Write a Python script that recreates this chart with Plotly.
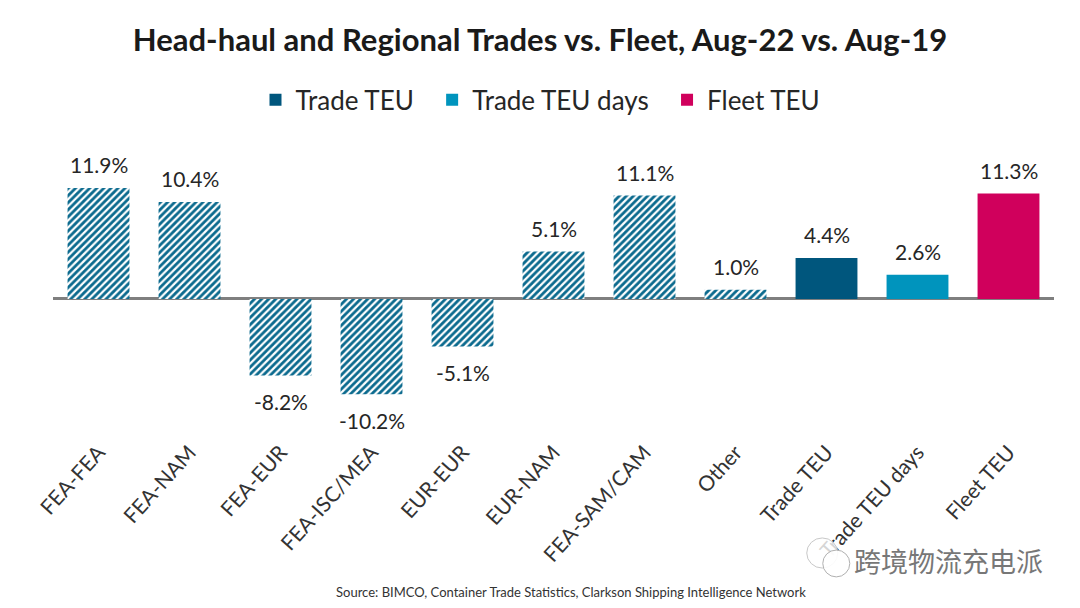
import plotly.graph_objects as go

# Values (% change)
trades = ['FEA-FEA', 'FEA-NAM', 'FEA-EUR', 'FEA-ISC/MEA', 'EUR-EUR', 'EUR-NAM', 'FEA-SAM/CAM', 'Other']
trade_values = [11.9, 10.4, -8.2, -10.2, -5.1, 5.1, 11.1, 1.0]
totals = ['Trade TEU', 'Trade TEU days', 'Fleet TEU']
total_values = [4.4, 2.6, 11.3]
total_colors = ['#00567d', '#0094bd', '#d0005c']
all_categories = trades + totals
all_values = trade_values + total_values

title_text = 'Head-haul and Regional Trades vs. Fleet, Aug-22 vs. Aug-19'
source_text = 'Source: BIMCO, Container Trade Statistics, Clarkson Shipping Intelligence Network'
watermark_text = '跨境物流充电派'

FONT = 'Lato, Carlito, sans-serif'
TEXT_COLOR = '#262626'

fig = go.Figure()

# Hatched regional bars, no legend entry
fig.add_trace(go.Bar(
    x=trades, y=trade_values, width=0.68, showlegend=False,
    marker=dict(color='white', line_width=0,
                pattern=dict(shape='/', fgcolor='#0b6a8e', bgcolor='white', size=5,
                             solidity=0.55, fgopacity=1)),
))

# Solid totals, one trace each so they show in the legend
for name, val, col in zip(totals, total_values, total_colors):
    fig.add_trace(go.Bar(
        x=[name], y=[val], name=name + '\u00a0\u00a0', width=0.68,  # nbsp widens legend gaps
        marker=dict(color=col, line_width=0),
    ))

# Value labels sit further off the bars than textposition outside allows
labels = [
    dict(x=cat, y=val, text=f'{val:.1f}%', showarrow=False, yanchor='middle',
         yshift=23 if val > 0 else -26, font=dict(size=21, color=TEXT_COLOR))
    for cat, val in zip(all_categories, all_values)
]

fig.update_layout(
    # the page body adds 8px around the figure
    width=1064, height=592,
    autosize=False,
    paper_bgcolor='white', plot_bgcolor='white',
    font=dict(family=FONT, color=TEXT_COLOR),
    barmode='overlay',
    margin=dict(l=45, r=18, t=132, b=165),
    title=dict(text=f'<b>{title_text}</b>', x=0.5, xanchor='center', xref='container',
               y=0.946, yanchor='middle', yref='container', font=dict(size=31, color='#1a1a1a')),
    legend=dict(orientation='h', x=0.4935, xanchor='center', xref='paper', y=1.136, yanchor='middle',
                font=dict(size=26, color=TEXT_COLOR), itemwidth=30, traceorder='normal'),
    xaxis=dict(categoryorder='array', categoryarray=all_categories, tickangle=-48,
               showline=False, showgrid=False, ticks='', tickfont=dict(size=21, color='#333333')),
    yaxis=dict(range=[-14.58, 17.04], visible=True, showticklabels=False, showgrid=False, ticks='',
               zeroline=True, zerolinecolor='#7f7f7f', zerolinewidth=3, showline=False),
    shapes=[
        # WeChat style watermark bubbles over the axis label
        dict(type='circle', xref='paper', yref='paper', x0=0.753, x1=0.784, y0=-0.451, y1=-0.349,
             fillcolor='rgba(255,255,255,0.8)', line=dict(color='#c8c8c8', width=1)),
        dict(type='circle', xref='paper', yref='paper', x0=0.769, x1=0.796, y0=-0.481, y1=-0.39,
             fillcolor='rgba(255,255,255,0.9)', line=dict(color='#b0b0b0', width=1)),
    ],
    annotations=labels + [
        dict(text=source_text, xref='paper', yref='paper', x=0.517, y=-0.532, xanchor='center',
             yanchor='middle', showarrow=False, font=dict(size=13, color='#333333')),
        dict(text=watermark_text, xref='paper', yref='paper', x=0.991, y=-0.424, xanchor='right',
             yanchor='middle', showarrow=False,
             font=dict(size=27, color='#777777', family='Noto Sans CJK SC')),
    ],
)

fig.write_html('out.html')
